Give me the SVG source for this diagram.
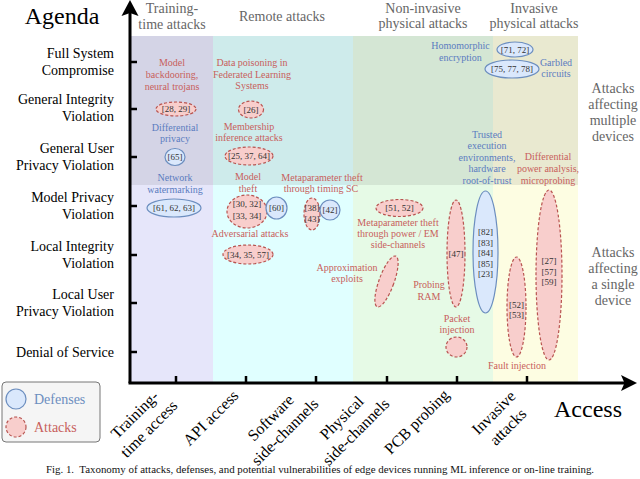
<svg xmlns="http://www.w3.org/2000/svg" width="640" height="479" viewBox="0 0 640 479">
<style>
text{font-family:"Liberation Serif","Times New Roman",serif}
.ylab{font-size:14px;fill:#000;text-anchor:end}
.hdr{font-size:14px;fill:#666;text-anchor:middle}
.side{font-size:14px;fill:#666;text-anchor:middle}
.xlab{font-size:16px;fill:#000;text-anchor:middle}
.big{font-size:24px;fill:#000;text-anchor:middle}
.atk{font-size:10px;fill:#c8605c;text-anchor:middle}
.def{font-size:10px;fill:#5b7cc0;text-anchor:middle}
.cit{font-size:9px;fill:#333;text-anchor:middle}
.d{fill:#dae8fc;stroke:#6c8ebf;stroke-width:1.2}
.a{fill:#f8cecc;stroke:#b85450;stroke-width:1.2;stroke-dasharray:3 2}
.axis{stroke:#000;stroke-width:3;fill:none}
.tick{stroke:#000;stroke-width:2.5}
</style>
<rect width="640" height="479" fill="#fff"/>
<g id="bands">
<rect x="131" y="36" width="82" height="347" fill="#e6e6fa"/>
<rect x="213" y="36" width="140" height="347" fill="#e0ffff"/>
<rect x="353" y="36" width="140" height="347" fill="#e6fae6"/>
<rect x="493" y="36" width="85" height="347" fill="#fdfde2"/>
<rect x="131" y="36" width="447" height="149" fill="#000" opacity="0.08"/>
</g>
<g id="headers">
<text class="hdr" x="172" y="13">Training-</text>
<text class="hdr" x="172" y="28.5">time attacks</text>
<text class="hdr" x="282" y="21">Remote attacks</text>
<text class="hdr" x="423" y="12.5">Non-invasive</text>
<text class="hdr" x="423" y="27.5">physical attacks</text>
<text class="hdr" x="534" y="12.5">Invasive</text>
<text class="hdr" x="534" y="27.5">physical attacks</text>
<text class="side" x="613" y="93">Attacks</text>
<text class="side" x="613" y="109">affecting</text>
<text class="side" x="613" y="125">multiple</text>
<text class="side" x="613" y="141">devices</text>
<text class="side" x="613" y="257">Attacks</text>
<text class="side" x="613" y="273">affecting</text>
<text class="side" x="613" y="289">a single</text>
<text class="side" x="613" y="305">device</text>
</g>
<g id="axes">
<line class="axis" x1="130" y1="12" x2="130" y2="383"/>
<line class="axis" x1="128.5" y1="383" x2="626" y2="383"/>
<path d="M130,0 L138.5,16 L130,13 L121.5,16 Z" fill="#000"/>
<path d="M637,383 L621,375 L624.5,383 L621,391 Z" fill="#000"/>
<g class="tick">
<line x1="131" y1="62" x2="137" y2="62"/>
<line x1="131" y1="109" x2="137" y2="109"/>
<line x1="131" y1="157" x2="137" y2="157"/>
<line x1="131" y1="206" x2="137" y2="206"/>
<line x1="131" y1="255" x2="137" y2="255"/>
<line x1="131" y1="303" x2="137" y2="303"/>
<line x1="131" y1="352" x2="137" y2="352"/>
<line x1="176" y1="382" x2="176" y2="376"/>
<line x1="246" y1="382" x2="246" y2="376"/>
<line x1="316" y1="382" x2="316" y2="376"/>
<line x1="387" y1="382" x2="387" y2="376"/>
<line x1="457" y1="382" x2="457" y2="376"/>
<line x1="527" y1="382" x2="527" y2="376"/>
</g>
<text class="big" x="62" y="24">Agenda</text>
<text class="big" x="588" y="417">Access</text>
</g>
<g id="ylabels">
<text class="ylab" x="114" y="58">Full System</text>
<text class="ylab" x="114" y="75">Compromise</text>
<text class="ylab" x="114" y="104">General Integrity</text>
<text class="ylab" x="114" y="121">Violation</text>
<text class="ylab" x="114" y="153">General User</text>
<text class="ylab" x="114" y="170">Privacy Violation</text>
<text class="ylab" x="114" y="202">Model Privacy</text>
<text class="ylab" x="114" y="219">Violation</text>
<text class="ylab" x="114" y="251">Local Integrity</text>
<text class="ylab" x="114" y="268">Violation</text>
<text class="ylab" x="114" y="299">Local User</text>
<text class="ylab" x="114" y="316">Privacy Violation</text>
<text class="ylab" x="114" y="357">Denial of Service</text>
</g>
<g id="xlabels">
<g transform="translate(142,422) rotate(-45)"><text class="xlab" x="0" y="-5">Training-</text><text class="xlab" x="0" y="15">time access</text></g>
<g transform="translate(211,418) rotate(-45)"><text class="xlab" x="0" y="5">API access</text></g>
<g transform="translate(278,425) rotate(-45)"><text class="xlab" x="0" y="-5">Software</text><text class="xlab" x="0" y="15">side-channels</text></g>
<g transform="translate(349,425) rotate(-45)"><text class="xlab" x="0" y="-5">Physical</text><text class="xlab" x="0" y="15">side-channels</text></g>
<g transform="translate(417,422) rotate(-45)"><text class="xlab" x="0" y="5">PCB probing</text></g>
<g transform="translate(501,420) rotate(-45)"><text class="xlab" x="0" y="-5">Invasive</text><text class="xlab" x="0" y="15">attacks</text></g>
</g>
<g id="backdoor">
<text class="atk" x="172" y="66">Model</text>
<text class="atk" x="172" y="78">backdooring,</text>
<text class="atk" x="172" y="90">neural trojans</text>
<ellipse class="a" cx="176" cy="109" rx="20" ry="7"/>
<text class="cit" x="176" y="112">[28, 29]</text>
</g>
<g id="dp">
<text class="def" x="175" y="131">Differential</text>
<text class="def" x="175" y="142">privacy</text>
<ellipse class="d" cx="175" cy="157" rx="10" ry="8.5"/>
<text class="cit" x="175" y="160">[65]</text>
</g>
<g id="watermark">
<text class="def" x="175" y="181">Network</text>
<text class="def" x="175" y="193">watermarking</text>
<ellipse class="d" cx="174" cy="208" rx="27" ry="9"/>
<text class="cit" x="174" y="211">[61, 62, 63]</text>
</g>
<g id="poison">
<text class="atk" x="252" y="66">Data poisoning in</text>
<text class="atk" x="252" y="77.5">Federated Learning</text>
<text class="atk" x="252" y="89">Systems</text>
<ellipse class="a" cx="251" cy="109.5" rx="12.5" ry="8.5"/>
<text class="cit" x="251" y="112.5">[26]</text>
</g>
<g id="membership">
<text class="atk" x="249" y="130">Membership</text>
<text class="atk" x="249" y="141">inference attacks</text>
<ellipse class="a" cx="249" cy="156" rx="24" ry="9"/>
<text class="cit" x="249" y="159">[25, 37, 64]</text>
</g>
<g id="modeltheft">
<text class="atk" x="248" y="180">Model</text>
<text class="atk" x="248" y="192">theft</text>
<ellipse class="a" cx="247" cy="211.5" rx="20" ry="16.5"/>
<text class="cit" x="247" y="207">[30, 32]</text>
<text class="cit" x="247" y="218.5">[33, 34]</text>
<ellipse class="d" cx="276.5" cy="208" rx="10.5" ry="11"/>
<text class="cit" x="276.5" y="211">[60]</text>
</g>
<g id="adversarial">
<text class="atk" x="250" y="237">Adversarial attacks</text>
<ellipse class="a" cx="248" cy="254.5" rx="25" ry="9.5"/>
<text class="cit" x="248" y="257.5">[34, 35, 57]</text>
</g>
<g id="metatiming">
<text class="atk" x="322" y="181">Metaparameter theft</text>
<text class="atk" x="321" y="192">through timing SC</text>
<ellipse class="a" cx="312" cy="214" rx="8" ry="16"/>
<text class="cit" x="312" y="211">[38]</text>
<text class="cit" x="312" y="222">[43]</text>
<ellipse class="d" cx="330" cy="210" rx="10" ry="10"/>
<text class="cit" x="330" y="213">[42]</text>
</g>
<g id="metapower">
<ellipse class="a" cx="399.5" cy="208" rx="23.5" ry="8.5"/>
<text class="cit" x="399.5" y="211">[51, 52]</text>
<text class="atk" x="398" y="226">Metaparameter theft</text>
<text class="atk" x="398" y="237">through power / EM</text>
<text class="atk" x="398" y="248">side-channels</text>
</g>
<g id="approx">
<text class="atk" x="347" y="271">Approximation</text>
<text class="atk" x="347" y="282">exploits</text>
<ellipse class="a" cx="386.5" cy="281.5" rx="7.5" ry="27" transform="rotate(20 386.5 281.5)"/>
</g>
<g id="probing">
<text class="atk" x="429" y="288">Probing</text>
<text class="atk" x="429" y="300">RAM</text>
<ellipse class="a" cx="456" cy="253.5" rx="9" ry="53.5"/>
<text class="cit" x="456" y="257">[47]</text>
</g>
<g id="packet">
<text class="atk" x="457" y="322">Packet</text>
<text class="atk" x="457" y="333">injection</text>
<ellipse class="a" cx="456.5" cy="347" rx="10.5" ry="10"/>
</g>
<g id="tee">
<text class="def" x="487" y="137.5">Trusted</text>
<text class="def" x="487" y="149">execution</text>
<text class="def" x="487" y="160.5">environments,</text>
<text class="def" x="487" y="172">hardware</text>
<text class="def" x="487" y="183.5">root-of-trust</text>
<ellipse class="d" cx="485.5" cy="252" rx="12.5" ry="61"/>
<text class="cit" x="485.5" y="235">[82]</text>
<text class="cit" x="485.5" y="245.5">[83]</text>
<text class="cit" x="485.5" y="256">[84]</text>
<text class="cit" x="485.5" y="266.5">[85]</text>
<text class="cit" x="485.5" y="277">[23]</text>
</g>
<g id="homomorphic">
<text class="def" x="460.5" y="49">Homomorphic</text>
<text class="def" x="460.5" y="61">encryption</text>
<ellipse class="d" cx="515" cy="49.5" rx="18" ry="7.5"/>
<text class="cit" x="515" y="52.5">[71, 72]</text>
</g>
<g id="garbled">
<ellipse class="d" cx="512" cy="69" rx="27" ry="9"/>
<text class="cit" x="512" y="72">[75, 77, 78]</text>
<text class="def" x="556" y="66">Garbled</text>
<text class="def" x="556" y="77">circuits</text>
</g>
<g id="dpa">
<text class="atk" x="548" y="160">Differential</text>
<text class="atk" x="548" y="172">power analysis,</text>
<text class="atk" x="548" y="183.5">microprobing</text>
<ellipse class="a" cx="549" cy="275" rx="13" ry="85"/>
<text class="cit" x="549" y="264">[27]</text>
<text class="cit" x="549" y="274.5">[57]</text>
<text class="cit" x="549" y="285">[59]</text>
</g>
<g id="fault">
<ellipse class="a" cx="516.5" cy="307" rx="9.5" ry="50"/>
<text class="cit" x="516.5" y="307.5">[52]</text>
<text class="cit" x="516.5" y="318">[53]</text>
<text class="atk" x="517" y="368.5">Fault injection</text>
</g>
<g id="legend">
<rect x="2" y="382" width="98" height="60" rx="4" fill="#f5f5f5" stroke="#777" stroke-width="1"/>
<circle class="d" cx="16" cy="399" r="10"/>
<text x="34" y="404" font-size="14" fill="#6c8ebf">Defenses</text>
<circle class="a" cx="16" cy="427" r="10"/>
<text x="34" y="432" font-size="14" fill="#c8605c">Attacks</text>
</g>
<text x="320" y="473" font-size="10.9" fill="#111" text-anchor="middle">Fig. 1.&#160; Taxonomy of attacks, defenses, and potential vulnerabilities of edge devices running ML inference or on-line training.</text>
</svg>
